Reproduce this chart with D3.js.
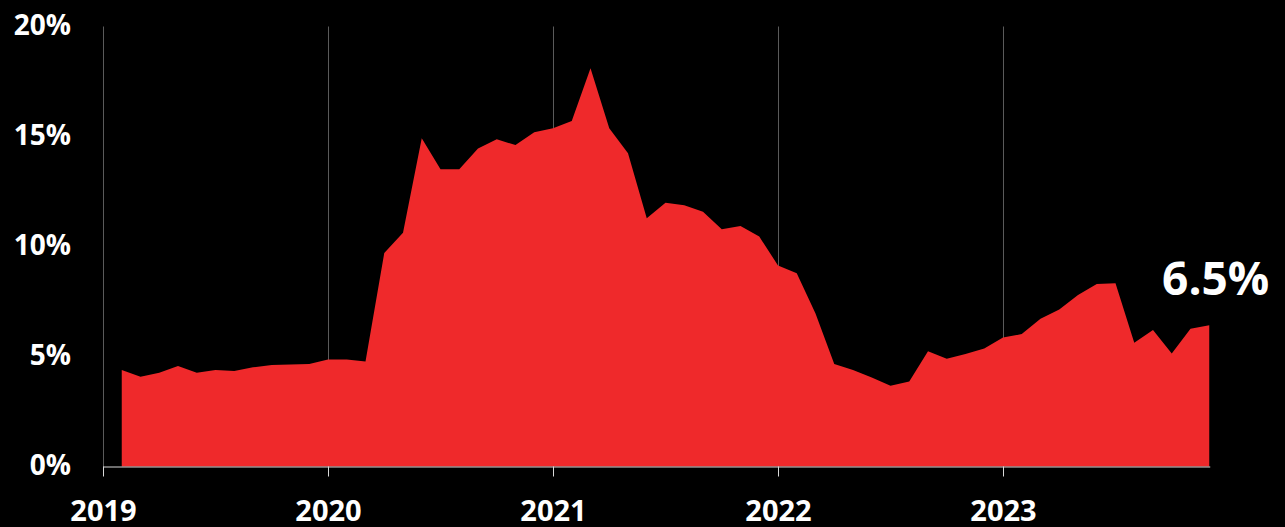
<!DOCTYPE html>
<html>
<head>
<meta charset="utf-8">
<script src="https://cdn.jsdelivr.net/npm/d3@7"></script>
<style>
  html, body { margin:0; padding:0; background:#000; }
  svg text { font-family:"Open Sans", sans-serif; font-weight:700; fill:#fff; }
</style>
</head>
<body>
<div id="chart"></div>
<script>
// Dimensions
var W = 1285, H = 527;
var margins = {top:26.5, bottom:60.5, left:103, right:57};

// Data : monthly share (%), Feb 2019 -> Dec 2023
var startYear = 2019, startMonth = 1; // feb = 1 (0 based)
var values = [
  4.39, 4.08, 4.26, 4.57, 4.26, 4.39, 4.34, 4.51, 4.61, 4.64, 4.66,            // 2019
  4.86, 4.86, 4.77, 9.70, 10.62, 14.92, 13.51, 13.51, 14.46, 14.87, 14.61, 15.19, // 2020
  15.37, 15.70, 18.10, 15.37, 14.24, 11.28, 11.99, 11.87, 11.58, 10.78, 10.93, 10.45, // 2021
  9.14, 8.78, 6.96, 4.66, 4.39, 4.05, 3.67, 3.86, 5.24, 4.90, 5.11, 5.36,     // 2022
  5.86, 6.02, 6.72, 7.14, 7.80, 8.30, 8.33, 5.63, 6.20, 5.14, 6.26, 6.42      // 2023
];
var yearTicks = [2019, 2020, 2021, 2022, 2023];
var pctTicks = [0, 5, 10, 15, 20];
var lastLabel = "6.5%";

var data = values.map(function(v, i){
  return {t: startYear + (startMonth + i) / 12, v: v};
});

var svg = d3.select("#chart").append("svg")
  .attr("width", W)
  .attr("height", H);

var x = d3.scaleLinear()
  .domain([2019, 2024])
  .range([margins.left, margins.left + 5 * 225]);
var y = d3.scaleLinear()
  .domain([0, 20])
  .range([H - margins.bottom, margins.top]);

// vertical gridlines (years)
svg.append("g").selectAll("line")
  .data(yearTicks).enter().append("line")
  .attr("x1", function(d){ return x(d) + 0.5; })
  .attr("x2", function(d){ return x(d) + 0.5; })
  .attr("y1", y(20))
  .attr("y2", y(0))
  .attr("stroke", "#5a5a5a")
  .attr("stroke-width", 1);

// area
var area = d3.area()
  .x(function(d){ return x(d.t); })
  .y0(y(0))
  .y1(function(d){ return y(d.v); });

svg.append("path")
  .datum(data)
  .attr("d", area)
  .attr("fill", "#ef292b");

// x axis
var xAxis = d3.axisBottom(x)
  .tickValues(yearTicks)
  .tickFormat(d3.format("d"))
  .tickSize(10)
  .tickSizeOuter(0);

var gx = svg.append("g")
  .attr("transform", "translate(0," + y(0) + ")")
  .call(xAxis);
gx.select(".domain")
  .attr("d", "M" + x(2019) + ",0.5H" + (x(data[data.length - 1].t) + 1))
  .attr("stroke", "#d9d9d9");
gx.selectAll(".tick line").attr("stroke", "#d9d9d9");
gx.selectAll(".tick text")
  .attr("y", 0)
  .attr("dy", null)
  .attr("transform", "translate(0,54)")
  .style("font-size", "29px")
  .style("font-family", "'Open Sans', sans-serif")
  .style("font-weight", 700)
  .attr("fill", "#fff");

// y labels
svg.append("g").selectAll("text")
  .data(pctTicks).enter().append("text")
  .attr("x", 71)
  .attr("y", function(d){ return y(d) + 8; })
  .attr("text-anchor", "end")
  .style("font-size", "28px")
  .text(function(d){ return d + "%"; });

// last value label
var last = data[data.length - 1];
svg.append("text")
  .attr("x", x(last.t) + 60)
  .attr("y", y(last.v) - 30)
  .attr("text-anchor", "end")
  .style("font-size", "46px")
  .text(lastLabel);
</script>
</body>
</html>
